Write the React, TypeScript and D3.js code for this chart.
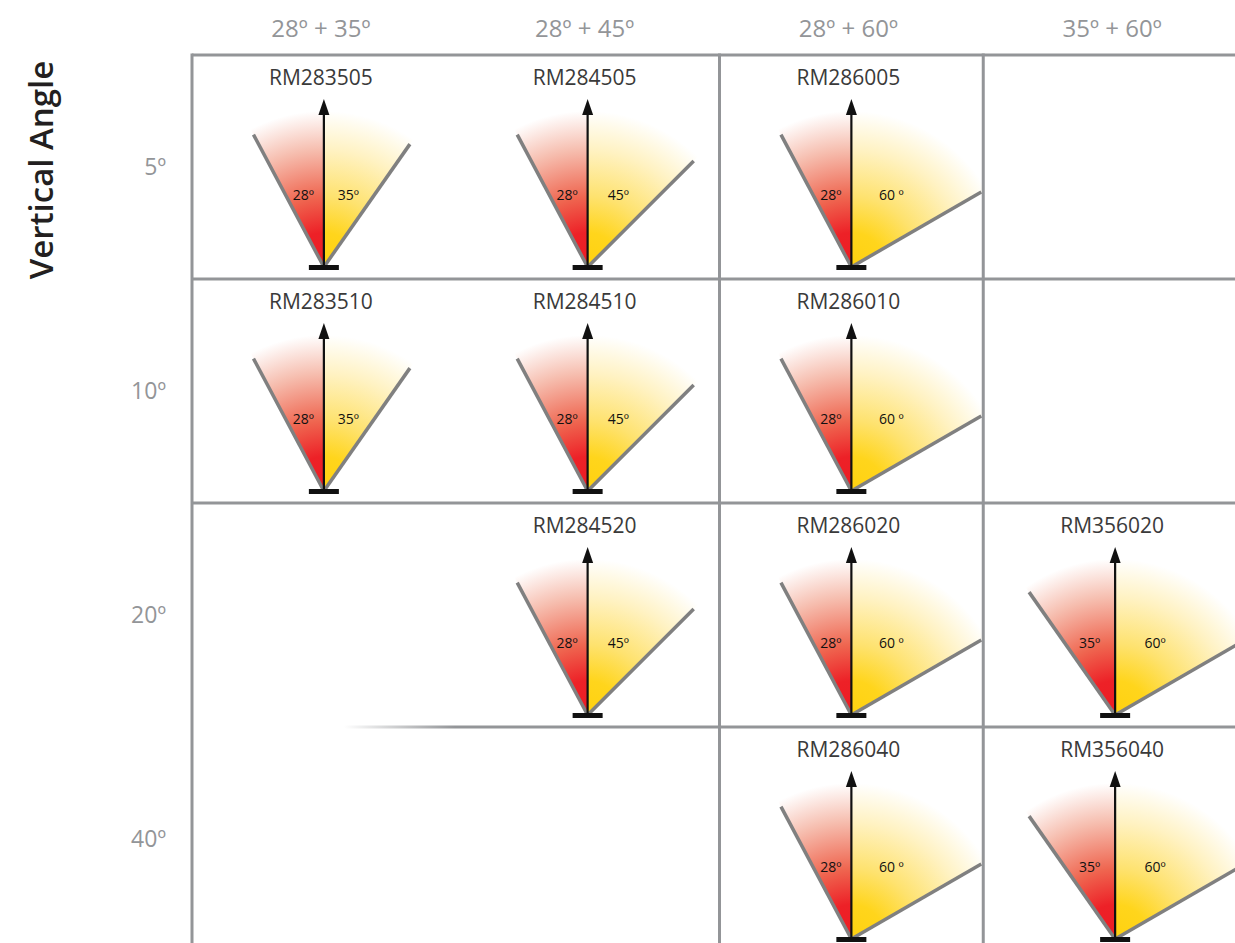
import React from "react";
import * as d3 from "d3";

const columns = ["28º + 35º", "28º + 45º", "28º + 60º", "35º + 60º"];
const rowLabels = ["5º", "10º", "20º", "40º"];
const models = ["RM283505", "RM284505", "RM286005", "RM283510", "RM284510", "RM286010", "RM284520", "RM286020", "RM356020", "RM286040", "RM356040"];
const modelCol = [0, 1, 2, 0, 1, 2, 1, 2, 3, 2, 3];
const modelRow = [0, 0, 0, 1, 1, 1, 2, 2, 2, 3, 3];
const leftAngles = [28, 28, 28, 28, 28, 28, 28, 28, 35, 28, 35];
const rightAngles = [35, 45, 60, 35, 45, 60, 45, 60, 60, 60, 60];
const leftLabels = ["28º", "28º", "28º", "28º", "28º", "28º", "28º", "28º", "35º", "28º", "35º"];
const rightLabels = ["35º", "45º", "60 º", "35º", "45º", "60 º", "45º", "60 º", "60º", "60 º", "60º"];

const W = 1235;
const H = 943;
const FONT = "'Open Sans', 'Noto Sans', 'DejaVu Sans', sans-serif";
const GRID = "#939598";

export default function App() {
  const x = d3.scaleBand<string>().domain(columns).range([192, 1247]);
  const y = d3.scaleBand<string>().domain(rowLabels).range([55, 951]);
  const rowH = y.bandwidth();
  const rad = (d: number) => (d * Math.PI) / 180;
  const fillR = 156;
  const lineL = 150;
  const arc = d3.arc<any>().innerRadius(0).outerRadius(fillR);

  const left = x.range()[0];
  return (
    <svg width={W} height={H} style={{ position: "absolute", left: 0, top: 0, background: "#fff" }} fontFamily={FONT}>
      <defs>
        <radialGradient id="redG" gradientUnits="userSpaceOnUse" cx={0} cy={0} r={fillR}>
          <stop offset="0" stopColor="#ED1C24" />
          <stop offset="0.22" stopColor="#ED2127" />
          <stop offset="0.45" stopColor="#EF6650" />
          <stop offset="0.75" stopColor="#F6BDAE" />
          <stop offset="1" stopColor="#FFFFFF" />
        </radialGradient>
        <radialGradient id="yelG" gradientUnits="userSpaceOnUse" cx={0} cy={0} r={fillR}>
          <stop offset="0" stopColor="#FFD10F" />
          <stop offset="0.22" stopColor="#FFD51C" />
          <stop offset="0.45" stopColor="#FEE26E" />
          <stop offset="0.75" stopColor="#FFF2C2" />
          <stop offset="1" stopColor="#FFFFFF" />
        </radialGradient>
        <linearGradient id="fadeLine" gradientUnits="userSpaceOnUse" x1={344} y1={0} x2={455} y2={0}>
          <stop offset="0" stopColor={GRID} stopOpacity={0} />
          <stop offset="1" stopColor={GRID} stopOpacity={1} />
        </linearGradient>
      </defs>

      {/* Column headers */}
      {columns.map((c) => (
        <text key={c} x={x(c)! + x.bandwidth() / 2 - 3} y={37} textAnchor="middle" fontSize={24} fill={GRID}>
          {c}
        </text>
      ))}

      {/* Row labels */}
      {rowLabels.map((r) => (
        <text key={r} x={166} y={y(r)! + rowH / 2 + 8} textAnchor="end" fontSize={23} fill={GRID}>
          {r}
        </text>
      ))}

      <text
        transform={`translate(53, ${y(rowLabels[0])! + rowH / 2 + 3}) rotate(-90)`}
        textAnchor="middle"
        fontSize={33}
        fontWeight={600}
        fill="#231F20"
      >
        Vertical Angle
      </text>

      {/* Fans */}
      {models.map((m, i) => {
        const col = columns[modelCol[i]];
        const row = rowLabels[modelRow[i]];
        const bx = x(col)! + x.bandwidth() / 2;
        const top = y(row)!;
        const by = top + 212;
        const la = rad(leftAngles[i]);
        const ra = rad(rightAngles[i]);
        return (
          <g key={m} transform={`translate(${bx},${by})`}>
            <path d={arc({ startAngle: -la, endAngle: 0 })!} fill="url(#redG)" />
            <path d={arc({ startAngle: 0, endAngle: ra })!} fill="url(#yelG)" />
            <line x1={0} y1={0} x2={-lineL * Math.sin(la)} y2={-lineL * Math.cos(la)} stroke="#808080" strokeWidth={3.5} />
            <line x1={0} y1={0} x2={lineL * Math.sin(ra)} y2={-lineL * Math.cos(ra)} stroke="#808080" strokeWidth={3.5} />
            <line x1={0} y1={0} x2={0} y2={-155} stroke="#111" strokeWidth={2.2} />
            <path d="M0,-168 L-5.5,-152 L5.5,-152 Z" fill="#111" />
            <rect x={-15} y={-2} width={30} height={5} fill="#111" />
            <text x={-85 * Math.sin(la / 2)} y={-67} textAnchor="middle" fontSize={14} fill="#111">
              {leftLabels[i]}
            </text>
            <text x={78 * Math.sin(ra / 2) + 1} y={-67} textAnchor="middle" fontSize={14} fill="#111">
              {rightLabels[i]}
            </text>
            <text x={-3} y={-182} textAnchor="middle" fontSize={21} fill="#3a3a3a">
              {m}
            </text>
          </g>
        );
      })}

      {/* Grid */}
      <line x1={left} x2={W} y1={y(rowLabels[0])!} y2={y(rowLabels[0])!} stroke={GRID} strokeWidth={3} />
      <line x1={left} x2={W} y1={y(rowLabels[1])!} y2={y(rowLabels[1])!} stroke={GRID} strokeWidth={3} />
      <line x1={left} x2={W} y1={y(rowLabels[2])!} y2={y(rowLabels[2])!} stroke={GRID} strokeWidth={3} />
      <line x1={344} x2={W} y1={y(rowLabels[3])!} y2={y(rowLabels[3])! + 0.001} stroke="url(#fadeLine)" strokeWidth={3} />
      {[left, x(columns[2])!, x(columns[3])!].map((vx, i) => (
        <line key={i} x1={vx} x2={vx} y1={y(rowLabels[0])! - 1.5} y2={H} stroke={GRID} strokeWidth={3} />
      ))}
    </svg>
  );
}
